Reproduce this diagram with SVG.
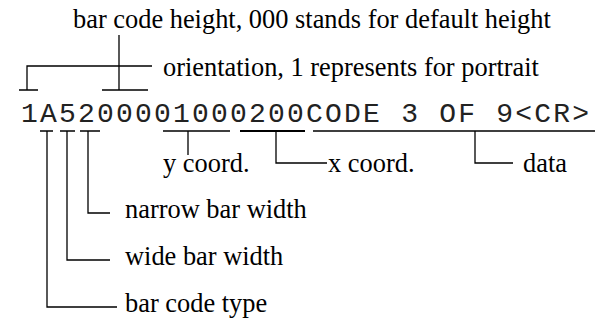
<svg xmlns="http://www.w3.org/2000/svg" width="595" height="323" viewBox="0 0 595 323">
<style>
.lbl{font-family:"Liberation Serif","Times New Roman",serif;font-size:26.4px;fill:#000}
.code{font-family:"Liberation Mono","Courier New",monospace;font-size:28px;fill:#222}
.ln{stroke:#000;stroke-width:1.3;fill:none}
.thick{stroke:#000;stroke-width:2;fill:none}
</style>
<rect width="595" height="323" fill="#fff"/>
<g id="command">
<text class="code" x="21" y="122" textLength="568" lengthAdjust="spacing">1A5200001000200CODE 3 OF 9&lt;CR&gt;</text>
</g>
<g id="connectors">
<path class="ln" d="M119 35V90M27 90V66H152M19 90H38M102 90H148"/>
<path class="ln" d="M40 131H53M60 131H75M80 131H100"/>
<path class="ln" d="M88 131V213H110M67 131V260H110M47 131V307H117"/>
<path class="ln" d="M163 131H230M188 131V155"/>
<path class="thick" d="M240 131H305"/>
<path class="ln" d="M276 131V163H327"/>
<path class="ln" d="M313 131H595M475 131V163H513"/>
</g>
<g id="height"><text class="lbl" x="73" y="28">bar code height, 000 stands for default height</text></g>
<g id="orientation"><text class="lbl" x="163" y="76">orientation, 1 represents for portrait</text></g>
<g id="ycoord"><text class="lbl" x="163" y="172">y coord.</text></g>
<g id="xcoord"><text class="lbl" x="328" y="172">x coord.</text></g>
<g id="data"><text class="lbl" x="523" y="172">data</text></g>
<g id="narrow"><text class="lbl" x="125" y="218">narrow bar width</text></g>
<g id="wide"><text class="lbl" x="125" y="265">wide bar width</text></g>
<g id="type"><text class="lbl" x="125" y="312">bar code type</text></g>
</svg>
